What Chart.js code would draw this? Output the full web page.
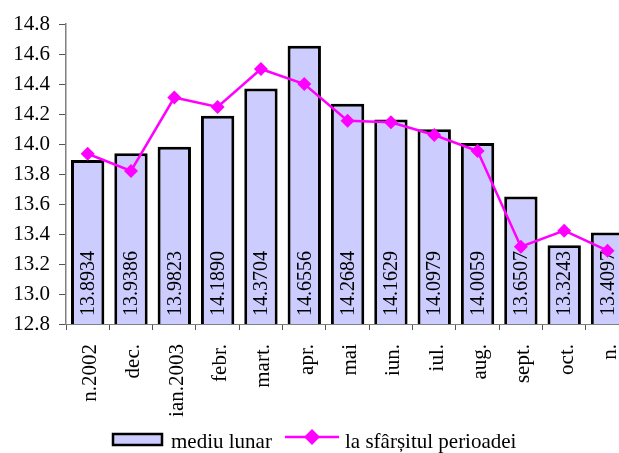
<!DOCTYPE html>
<html>
<head>
<meta charset="utf-8">
<script src="https://cdn.jsdelivr.net/npm/chart.js@4.4.0/dist/chart.umd.min.js"></script>
<style>
  html, body { margin: 0; padding: 0; background: #fff; overflow: hidden; }
  #wrap { position: relative; width: 619px; height: 453px; overflow: hidden; }
  canvas { display: block; }
</style>
</head>
<body>
<div id="wrap"><canvas id="c" width="647" height="453" style="width:647px;height:453px"></canvas></div>
<script>
const categories = ['n.2002', 'dec.', 'ian.2003', 'febr.', 'mart.', 'apr.', 'mai', 'iun.', 'iul.', 'aug.', 'sept.', 'oct.', 'n.'];
const monthlyAvg = [13.8934, 13.9386, 13.9823, 14.1890, 14.3704, 14.6556, 14.2684, 14.1629, 14.0979, 14.0059, 13.6507, 13.3243, 13.4097];
const endOfPeriod = [13.935, 13.82, 14.31, 14.247, 14.50, 14.40, 14.155, 14.145, 14.06, 13.953, 13.315, 13.422, 13.289];
const seriesNames = ['mediu lunar', 'la sfârșitul perioadei'];
const yMin = 12.8, yMax = 14.8, yStep = 0.2;

const FONT = "'Liberation Serif', 'Times New Roman', serif";
const BAR_FILL = '#CCCCFF';
const LINE_COLOR = '#FF00FF';

const barLabels = {
  id: 'barLabels',
  afterDatasetDraw(chart, args) {
    if (args.index !== 0) return;
    const ctx = chart.ctx;
    const meta = chart.getDatasetMeta(0);
    const base = chart.scales.y.getPixelForValue(yMin);
    ctx.save();
    ctx.fillStyle = '#000';
    ctx.font = '20px ' + FONT;
    ctx.textAlign = 'left';
    ctx.textBaseline = 'middle';
    meta.data.forEach((bar, i) => {
      ctx.save();
      ctx.translate(bar.x + 1, base - 8);
      ctx.rotate(-Math.PI / 2);
      ctx.fillText(monthlyAvg[i].toFixed(4), 0, 0);
      ctx.restore();
    });
    ctx.restore();
  }
};

const legendPlugin = {
  id: 'customLegend',
  afterDraw(chart) {
    const ctx = chart.ctx;
    ctx.save();
    ctx.fillStyle = BAR_FILL;
    ctx.fillRect(113, 434, 49, 11);
    ctx.strokeStyle = '#000';
    ctx.lineWidth = 2.5;
    ctx.strokeRect(113, 434, 49, 11);
    ctx.fillStyle = '#000';
    ctx.font = '21px ' + FONT;
    ctx.textAlign = 'left';
    ctx.textBaseline = 'alphabetic';
    ctx.fillText(seriesNames[0], 171, 448);
    ctx.strokeStyle = LINE_COLOR;
    ctx.lineWidth = 2.5;
    ctx.beginPath();
    ctx.moveTo(285, 437);
    ctx.lineTo(339, 437);
    ctx.stroke();
    ctx.fillStyle = LINE_COLOR;
    ctx.beginPath();
    ctx.moveTo(312, 429);
    ctx.lineTo(320, 437);
    ctx.lineTo(312, 445);
    ctx.lineTo(304, 437);
    ctx.closePath();
    ctx.fill();
    ctx.fillStyle = '#000';
    ctx.fillText(seriesNames[1], 345, 448);
    ctx.restore();
  }
};

new Chart(document.getElementById('c'), {
  data: {
    labels: categories,
    datasets: [
      {
        type: 'bar',
        label: seriesNames[0],
        data: monthlyAvg,
        backgroundColor: BAR_FILL,
        borderColor: '#000',
        borderWidth: 3,
        borderSkipped: false,
        barPercentage: 0.77,
        categoryPercentage: 1.0,
        order: 1
      },
      {
        type: 'line',
        label: seriesNames[1],
        data: endOfPeriod,
        borderColor: LINE_COLOR,
        borderWidth: 2.5,
        pointStyle: 'rectRot',
        pointRadius: 7,
        pointBackgroundColor: LINE_COLOR,
        pointBorderColor: LINE_COLOR,
        pointBorderWidth: 0,
        tension: 0,
        order: 0
      }
    ]
  },
  options: {
    responsive: false,
    animation: false,
    devicePixelRatio: 1,
    layout: { padding: { top: 24, left: 0, right: 0, bottom: 0 } },
    plugins: {
      legend: { display: false },
      tooltip: { enabled: false }
    },
    scales: {
      x: {
        offset: true,
        grid: { offset: true, drawOnChartArea: false, drawTicks: true, tickLength: 6, color: '#555' },
        border: { display: true, color: '#808080', width: 1 },
        ticks: {
          autoSkip: false,
          minRotation: 90,
          maxRotation: 90,
          padding: 14,
          labelOffset: 3,
          color: '#000',
          font: { family: FONT, size: 21 }
        },
        afterFit(s) { s.height = 129; }
      },
      y: {
        min: yMin,
        max: yMax,
        grid: { drawOnChartArea: false, drawTicks: true, tickLength: 7, color: '#555' },
        border: { display: true, color: '#808080', width: 1.5 },
        ticks: {
          stepSize: yStep,
          padding: 9,
          color: '#000',
          font: { family: FONT, size: 21 },
          callback: v => Number(v).toFixed(1)
        },
        afterFit(s) { s.width = 66; }
      }
    }
  },
  plugins: [barLabels, legendPlugin]
});
</script>
</body>
</html>
